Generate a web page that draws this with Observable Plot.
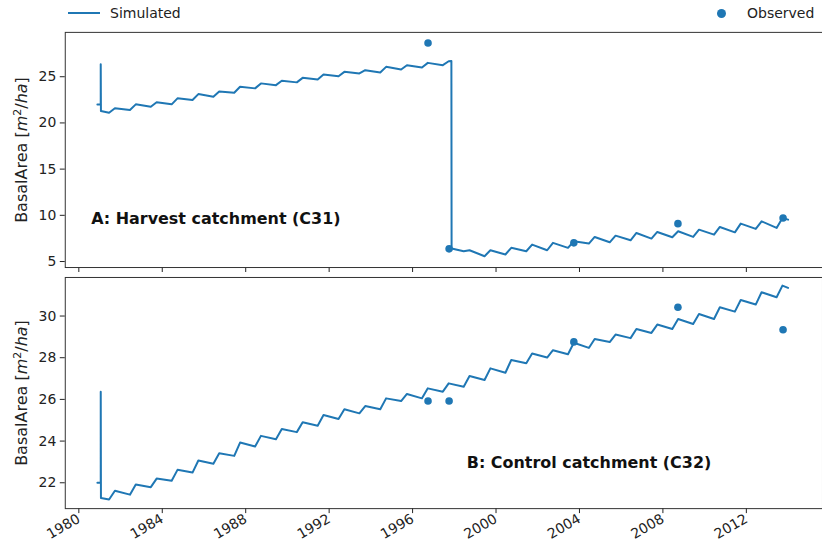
<!DOCTYPE html>
<html>
<head>
<meta charset="utf-8">
<script src="https://cdn.jsdelivr.net/npm/d3@7"></script>
<script src="https://cdn.jsdelivr.net/npm/@observablehq/plot@0.6"></script>
<style>
  html, body { margin: 0; padding: 0; background: #fff; overflow: hidden; }
  #wrap { position: relative; width: 822px; height: 555px; overflow: hidden; font-family: "DejaVu Sans", sans-serif; color: #222; }
  .panel { position: absolute; left: 0; }
  .ylab { position: absolute; font-size: 16px; white-space: nowrap; transform: translate(-50%, -50%) rotate(-90deg); }
  .ylab sup { font-size: 11px; vertical-align: 6px; line-height: 0; }
  .leg { position: absolute; font-size: 14px; line-height: 16px; white-space: nowrap; }
  .leg-line { position: absolute; height: 2px; background: #1f77b4; }
  .leg-dot { position: absolute; width: 9px; height: 9px; border-radius: 50%; background: #1f77b4; }
</style>
</head>
<body>
<div id="wrap"></div>
<script>
// Simulated basal area: one trough and one peak per growing year
const years = [1981, 1982, 1983, 1984, 1985, 1986, 1987, 1988, 1989, 1990, 1991,
               1992, 1993, 1994, 1995, 1996, 1997, 1998, 1999, 2000, 2001, 2002,
               2003, 2004, 2005, 2006, 2007, 2008, 2009, 2010, 2011, 2012, 2013];
const seasonTrough = 0.45;   // fraction of year where the seasonal low sits
const seasonPeak = 0.73;     // fraction of year where the seasonal high sits

// Harvest catchment (C31)
const troughA = [21.10, 21.40, 21.75, 22.01, 22.48, 22.83, 23.26, 23.74, 24.09, 24.39, 24.71,
                 25.06, 25.36, 25.46, 25.79, 26.00, 26.25, 6.11, 5.57, 5.76, 6.11, 6.22,
                 6.48, 6.94, 7.08, 7.30, 7.48, 7.62, 7.66, 7.91, 8.16, 8.53, 8.64];
const peakA   = [21.58, 22.01, 22.23, 22.66, 23.12, 23.41, 23.91, 24.28, 24.56, 24.88, 25.25,
                 25.53, 25.71, 26.07, 26.25, 26.50, 26.68, 6.22, 6.22, 6.48, 6.83, 7.02,
                 7.19, 7.66, 7.80, 8.09, 8.20, 8.27, 8.45, 8.74, 9.10, 9.35, 9.71];
const harvestYear = 1997;
const harvestTime = [1997.86, 1997.87];
const harvestA = [26.70, 6.40];

// Control catchment (C32)
const troughB = [21.20, 21.43, 21.79, 22.10, 22.49, 22.91, 23.29, 23.74, 24.09, 24.43, 24.74,
                 25.06, 25.33, 25.53, 25.92, 26.05, 26.37, 26.61, 26.93, 27.28, 27.73, 28.01,
                 28.17, 28.47, 28.75, 28.94, 29.19, 29.38, 29.62, 29.86, 30.21, 30.55, 30.90];
const peakB   = [21.62, 21.92, 22.20, 22.62, 23.07, 23.42, 23.93, 24.25, 24.58, 24.90, 25.25,
                 25.53, 25.68, 26.05, 26.26, 26.53, 26.77, 27.12, 27.49, 27.89, 28.20, 28.36,
                 28.72, 28.90, 29.11, 29.38, 29.59, 29.86, 30.10, 30.42, 30.77, 31.14, 31.46];

// Model spin-up at the start of the run and the final time step
const startTime = [1980.89, 1981.05, 1981.05, 1981.06];
const startA = [22.0, 22.0, 26.36, 21.29];
const startB = [22.0, 22.0, 26.37, 21.27];
const endTime = 2014.0;
const endA = 9.53;
const endB = 31.35;

// Field observations
const obsTime = [1996.74, 1997.75, 2003.73, 2008.72, 2013.76];
const obsA = [28.66, 6.37, 7.02, 9.10, 9.71];
const obsB = [25.92, 25.92, 28.76, 30.42, 29.34];

// Axis ticks and labels
const xTicks = [1980, 1984, 1988, 1992, 1996, 2000, 2004, 2008, 2012];
const yTicksA = [5, 10, 15, 20, 25];
const yTicksB = [22, 24, 26, 28, 30];
const noteA = "A: Harvest catchment (C31)";
const noteB = "B: Control catchment (C32)";
const legendSim = "Simulated";
const legendObs = "Observed";

const blue = "#1f77b4";

function buildSeries(troughs, peaks, start, endV, extra) {
  const out = startTime.map((t, i) => ({t, v: start[i]}));
  years.forEach((y, i) => {
    out.push({t: y + seasonTrough, v: troughs[i]});
    out.push({t: y + seasonPeak, v: peaks[i]});
    if (extra && y === extra.year) extra.time.forEach((t, j) => out.push({t, v: extra.values[j]}));
  });
  out.push({t: endTime, v: endV});
  return out;
}

const simA = buildSeries(troughA, peakA, startA, endA, {year: harvestYear, time: harvestTime, values: harvestA});
const simB = buildSeries(troughB, peakB, startB, endB, null);
const observedA = obsTime.map((t, i) => ({t, v: obsA[i]}));
const observedB = obsTime.map((t, i) => ({t, v: obsB[i]}));

const xDomain = [1979.35, 2015.65];
const common = {
  width: 825,
  marginLeft: 65,
  marginRight: 0,
  style: {fontFamily: "DejaVu Sans, sans-serif", fontSize: "14px", color: "#222", background: "transparent", overflow: "visible"}
};

const plotA = Plot.plot({
  ...common,
  height: 275,
  marginTop: 32,
  marginBottom: 7,
  x: {domain: xDomain, ticks: xTicks, tickSize: 5, tickFormat: () => "", label: null},
  y: {domain: [4.35, 29.8], ticks: yTicksA, tickSize: 5, tickPadding: 4, label: null},
  marks: [
    Plot.frame({stroke: "#333", strokeWidth: 1}),
    Plot.line(simA, {x: "t", y: "v", stroke: blue, strokeWidth: 2}),
    Plot.dot(observedA, {x: "t", y: "v", r: 3.8, fill: blue, stroke: "none"}),
    Plot.text([noteA], {text: d => d, frameAnchor: "bottom-left", dx: 26, dy: -49, textAnchor: "start", lineAnchor: "middle", fontWeight: "bold", fontSize: 16, fill: "#111"})
  ]
});

const plotB = Plot.plot({
  ...common,
  height: 285,
  marginTop: 7,
  marginBottom: 46,
  x: {domain: xDomain, ticks: xTicks, tickSize: 5, tickPadding: 4, tickRotate: -30, tickFormat: d => String(d), label: null},
  y: {domain: [20.76, 31.85], ticks: yTicksB, tickSize: 5, tickPadding: 4, label: null},
  marks: [
    Plot.frame({stroke: "#333", strokeWidth: 1}),
    Plot.line(simB, {x: "t", y: "v", stroke: blue, strokeWidth: 2}),
    Plot.dot(observedB, {x: "t", y: "v", r: 3.8, fill: blue, stroke: "none"}),
    Plot.text([noteB], {text: d => d, frameAnchor: "bottom-left", dx: 403, dy: -46, textAnchor: "start", lineAnchor: "middle", fontWeight: "bold", fontSize: 16, fill: "#111"})
  ]
});

const wrap = document.getElementById("wrap");
plotA.classList.add("panel"); plotA.style.top = "0px";
plotB.classList.add("panel"); plotB.style.top = "270px";
wrap.appendChild(plotA);
wrap.appendChild(plotB);

// y-axis titles
const ylabHTML = 'BasalArea [<i>m</i><sup>2</sup>/<i>ha</i>]';
[[150], [393]].forEach(([cy]) => {
  const d = document.createElement("div");
  d.className = "ylab";
  d.style.left = "21px";
  d.style.top = cy + "px";
  d.innerHTML = ylabHTML;
  wrap.appendChild(d);
});

// legend row above the panels
function addEl(cls, css, text) {
  const e = document.createElement("div");
  e.className = cls;
  Object.assign(e.style, css);
  if (text) e.textContent = text;
  wrap.appendChild(e);
}
addEl("leg-line", {left: "68px", top: "12px", width: "32px"});
addEl("leg", {left: "110px", top: "5px"}, legendSim);
addEl("leg-dot", {left: "717px", top: "9px"});
addEl("leg", {left: "747px", top: "5px"}, legendObs);
</script>
</body>
</html>
